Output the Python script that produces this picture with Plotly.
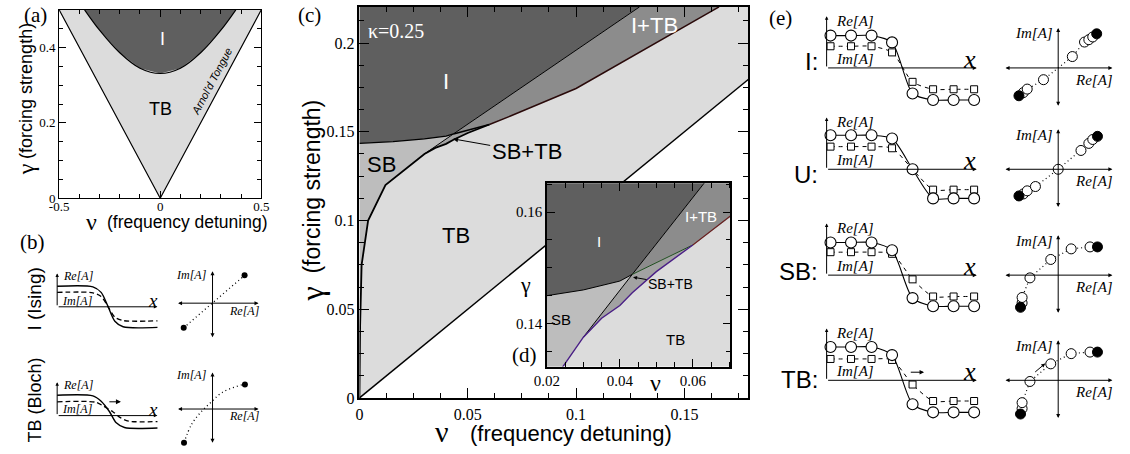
import plotly.graph_objects as go

W, H = 1130, 454
SERIF = "Liberation Serif"
SANS = "Liberation Sans"

# ======================= DATA =======================
# (a) overview of the Arnold tongue
a_tongue_nu = [-0.5, 0.0, 0.5]
a_tongue_gamma = [0.5, 0.0, 0.5]
a_ising_nu = [-0.374, -0.3, -0.2, -0.1, 0.0, 0.1, 0.2, 0.3, 0.374]
a_ising_gamma = [0.5, 0.446, 0.386, 0.345, 0.331, 0.345, 0.386, 0.446, 0.5]
a_top = 0.5

# (c)/(d) phase diagram, kappa = 0.25
c_top = 0.2204
tongue_nu = [0.0, 0.2]
tongue_gamma = [0.0, 0.2]
sbtb_nu = [0.0, 0.0003, 0.001, 0.004, 0.012, 0.0243, 0.030, 0.035, 0.040, 0.0434, 0.050, 0.060]
sbtb_gamma = [0.0, 0.040, 0.075, 0.100, 0.120, 0.1321, 0.1375, 0.1409, 0.1432, 0.1455, 0.1493, 0.1541]
upper_nu = [0.060, 0.070, 0.100, 0.166]
upper_gamma = [0.1541, 0.1590, 0.1744, 0.2204]
ibound_nu = [0.0, 0.0155, 0.030, 0.040, 0.0434]
ibound_gamma = [0.1435, 0.1445, 0.1460, 0.1476, 0.1488]
line_nu = [0.030, 0.0434, 0.1293]
line_gamma = [0.1375, 0.1488, 0.2204]
green_nu = [0.0434, 0.060]
green_gamma = [0.1488, 0.1541]

# (b) schematic profiles
b_I_re_t = [0, 2.6, 3.2, 3.71, 4.2, 4.8, 7.3]
b_I_re = [1.0, 0.97, 0.7, 0.0, -0.7, -0.97, -1.0]
b_I_im_t = [0, 2.6, 3.2, 3.71, 4.2, 4.8, 7.3]
b_I_im = [0.70, 0.68, 0.5, 0.0, -0.5, -0.67, -0.68]
b_TB_re_t = [0, 2.6, 3.2, 3.8, 4.3, 4.9, 7.3]
b_TB_re = [0.99, 0.96, 0.7, 0.2, -0.35, -0.58, -0.6]
b_TB_im_t = [0, 2.8, 3.4, 4.05, 4.6, 5.2, 7.3]
b_TB_im = [0.67, 0.65, 0.45, 0.19, -0.1, -0.27, -0.29]
b_I_ph_re = [-0.89, 0.99]
b_I_ph_im = [-0.76, 0.86]
b_TB_ph_re = [-0.88, -0.65, -0.39, -0.09, 0.31, 0.92, 1.0]
b_TB_ph_im = [-1.04, -0.48, -0.13, 0.17, 0.52, 0.75, 0.76]

# (e) discrete profiles (8 sites) and phase portraits
e_sites = [0, 1, 2, 3, 4, 5, 6, 7]
e_names = ["I:", "U:", "SB:", "TB:"]
e_re = [[1.0, 1.0, 1.0, 0.79, -0.79, -0.99, -0.99, -0.99],
        [1.05, 1.05, 1.05, 0.95, 0.0, -0.9, -0.9, -0.9],
        [1.01, 1.01, 1.01, 0.77, -0.71, -0.96, -0.96, -0.96],
        [1.03, 1.03, 1.03, 0.78, -0.74, -0.99, -0.99, -0.99]]
e_im = [[0.67, 0.67, 0.67, 0.48, -0.43, -0.66, -0.66, -0.66],
        [0.70, 0.70, 0.70, 0.65, 0.0, -0.63, -0.63, -0.63],
        [0.71, 0.71, 0.71, 0.66, -0.13, -0.66, -0.66, -0.66],
        [0.66, 0.66, 0.66, 0.63, -0.13, -0.64, -0.64, -0.64]]
e_ph_re = [[-1.0, -0.89, -0.79, -0.375, 0.36, 0.67, 0.78, 0.88, 0.98],
           [-1.0, -0.89, -0.79, -0.58, 0.0, 0.58, 0.78, 0.88, 1.0],
           [-0.96, -0.92, -0.92, -0.72, -0.19, 0.33, 0.81, 1.0],
           [-0.96, -0.92, -0.92, -0.72, -0.19, 0.33, 0.81, 1.0]]
e_ph_im = [[-0.71, -0.63, -0.54, -0.3, 0.29, 0.66, 0.72, 0.79, 0.87],
           [-0.68, -0.63, -0.55, -0.44, 0.0, 0.48, 0.66, 0.76, 0.84],
           [-0.82, -0.71, -0.57, -0.07, 0.4, 0.67, 0.72, 0.72],
           [-0.86, -0.72, -0.57, -0.03, 0.42, 0.68, 0.72, 0.72]]

C_I = "#5f5f5f"
C_ITB = "#8c8c8c"
C_SB = "#bdbdbd"
C_SBTB = "#a2a2a2"
C_TB = "#dcdcdc"

# ======================= HELPERS =======================
fig = go.Figure()
axes = {}
annotations = []


def ref(i):
    return ("x" if i == 1 else f"x{i}", "y" if i == 1 else f"y{i}")


def set_axes(i, xdom, ydom, xr, yr, xkw=None, ykw=None):
    sfx = "" if i == 1 else str(i)
    xd = dict(domain=xdom, range=xr, anchor="y" + sfx, showgrid=False, zeroline=False, fixedrange=True)
    yd = dict(domain=ydom, range=yr, anchor="x" + sfx, showgrid=False, zeroline=False, fixedrange=True)
    if xkw:
        xd.update(xkw)
    if ykw:
        yd.update(ykw)
    axes["xaxis" + sfx] = xd
    axes["yaxis" + sfx] = yd


def sk_axes(i, ox, oy, sx, sy, pl, pr, pt, pb):
    set_axes(i, [(ox - pl) / W, (ox + pr) / W], [1 - (oy + pb) / H, 1 - (oy - pt) / H],
             [-pl / sx, pr / sx], [-pb / sy, pt / sy], dict(visible=False), dict(visible=False))


def tr(i, x, y, **kw):
    xr, yr = ref(i)
    fig.add_trace(go.Scatter(x=x, y=y, xaxis=xr, yaxis=yr, showlegend=False, hoverinfo="skip", **kw))


def poly(i, x, y, color):
    tr(i, x, y, mode="lines", fill="toself", fillcolor=color, line=dict(width=0, color=color))


def arrow(i, x0, y0, x1, y1, both=False, size=0.8, width=1.0, head=2):
    xr, yr = ref(i)
    annotations.append(dict(x=x1, y=y1, ax=x0, ay=y0, xref=xr, yref=yr, axref=xr, ayref=yr, text="",
                            showarrow=True, arrowhead=head, arrowsize=size, arrowwidth=width,
                            arrowcolor="black", arrowside="end+start" if both else "end",
                            startarrowhead=head, startarrowsize=size))


def label(i, x, y, text, size, family=SERIF, color="black", xanchor="center", angle=0):
    xr, yr = ref(i)
    annotations.append(dict(x=x, y=y, xref=xr, yref=yr, text=text, showarrow=False,
                            font=dict(family=family, size=size, color=color),
                            xanchor=xanchor, yanchor="middle", textangle=angle))


def plabel(px, py, text, size, family=SERIF, xanchor="center", angle=0, color="black"):
    annotations.append(dict(x=px / W, y=1 - py / H, xref="paper", yref="paper", text=text,
                            showarrow=False, font=dict(family=family, size=size, color=color),
                            xanchor=xanchor, yanchor="middle", textangle=angle))


def frame(lw, tl, ml, fs, dtick, minor, tick0=0.0, tickvals=None, ticktext=None, standoff=0):
    d = dict(showline=True, linecolor="black", linewidth=lw, mirror="ticks", ticks="inside",
             ticklen=tl, tickwidth=1.1, tickcolor="black", ticklabelstandoff=standoff,
             tickfont=dict(family=SERIF, size=fs, color="black"),
             minor=dict(ticks="inside", ticklen=ml, tickwidth=1, tickcolor="black", dtick=minor, tick0=tick0))
    if tickvals is not None:
        d.update(tickmode="array", tickvals=tickvals, ticktext=ticktext)
    else:
        d.update(tick0=tick0, dtick=dtick)
    return d


# ======================= (a) =======================
set_axes(1, [47 / W, 253 / W], [1 - 202.3 / H, 1 - 10 / H], [-0.5, 0.5], [0, a_top],
         frame(1.2, 7, 4, 13, 0.5, 0.1, tick0=-0.5, tickvals=[-0.5, 0, 0.5], ticktext=["-0.5", "0", "0.5"],
               standoff=-4),
         frame(1.2, 7, 4, 13, 0.2, 0.05))
poly(1, a_tongue_nu, a_tongue_gamma, C_TB)
poly(1, a_ising_nu + [a_ising_nu[0]], a_ising_gamma + [a_ising_gamma[0]], C_I)
tr(1, a_tongue_nu, a_tongue_gamma, mode="lines", line=dict(color="black", width=1.2))
tr(1, a_ising_nu, a_ising_gamma, mode="lines", line=dict(color="black", width=1.2, shape="spline"))
label(1, 0.01, 0.422, "I", 18, SANS, "white")
label(1, 0.0, 0.237, "TB", 18, SANS)
label(1, 0.257, 0.31, "<i>Arnol'd Tongue</i>", 11, SANS, angle=-62)
plabel(23, 15, "(a)", 21)
plabel(13, 173, "γ", 24, SERIF, angle=-90)
plabel(13, 93, "(forcing strength)", 18, SANS, angle=-90)
plabel(80, 226, "ν", 24, SERIF)
plabel(178, 226, "(frequency detuning)", 17.5, SANS)


# ======================= (c) and (d) =======================
def phase_diagram(i, inset):
    poly(i, [0, 0.2, 0.2, 0], [0, 0.2, 0.3, 0.3], C_TB)
    k = sbtb_nu.index(0.030)
    poly(i, sbtb_nu[:k + 1] + [line_nu[1]] + ibound_nu[::-1],
         sbtb_gamma[:k + 1] + [line_gamma[1]] + ibound_gamma[::-1], C_SB)
    poly(i, sbtb_nu[k:] + green_nu[::-1] + [line_nu[0]],
         sbtb_gamma[k:] + green_gamma[::-1] + [line_gamma[0]], C_SBTB)
    poly(i, green_nu + upper_nu[1:] + line_nu[::-1][:2],
         green_gamma + upper_gamma[1:] + line_gamma[::-1][:2], C_ITB)
    poly(i, ibound_nu + line_nu[1:] + [0.0], ibound_gamma + line_gamma[1:] + [c_top], C_I)
    if inset:
        tr(i, ibound_nu, ibound_gamma, mode="lines", line=dict(color="black", width=1))
        tr(i, line_nu, line_gamma, mode="lines", line=dict(color="black", width=1))
        tr(i, green_nu, green_gamma, mode="lines", line=dict(color="#1f4f1f", width=1))
        tr(i, upper_nu, upper_gamma, mode="lines", line=dict(color="#6a2020", width=1.2))
        tr(i, sbtb_nu, sbtb_gamma, mode="lines", line=dict(color="#4a1f86", width=1.4))
    else:
        tr(i, tongue_nu, tongue_gamma, mode="lines", line=dict(color="black", width=1.5))
        tr(i, ibound_nu, ibound_gamma, mode="lines", line=dict(color="black", width=1.2))
        tr(i, line_nu, line_gamma, mode="lines", line=dict(color="black", width=1))
        tr(i, upper_nu, upper_gamma, mode="lines", line=dict(color="#2a0a0a", width=1.5))
        tr(i, green_nu, green_gamma, mode="lines", line=dict(color="black", width=1.5))
        tr(i, sbtb_nu, sbtb_gamma, mode="lines", line=dict(color="black", width=1.8))


set_axes(2, [353 / W, 749 / W], [1 - 406 / H, 1 - 7 / H], [0, 0.1794], [0, c_top],
         frame(1.5, 10, 5, 16, 0.05, 0.0125, standoff=1), frame(1.5, 10, 5, 16, 0.05, 0.0125))
phase_diagram(2, False)
label(2, 0.0168, 0.2068, "κ=0.25", 20, SERIF, "white")
label(2, 0.0399, 0.1783, "I", 22, SANS, "white")
label(2, 0.1364, 0.2100, "I+TB", 22, SANS, "white")
label(2, 0.0103, 0.1313, "SB", 22, SANS)
label(2, 0.0447, 0.0917, "TB", 22, SANS)
annotations.append(dict(x=0.0432, y=0.1460, ax=0.0772, ay=0.1387, xref="x2", yref="y2", axref="x2",
                        ayref="y2", text="SB+TB", showarrow=True, arrowhead=2, arrowsize=1,
                        arrowwidth=1, arrowcolor="black", font=dict(family=SANS, size=22, color="black")))
plabel(302, 15, "(c)", 21)
plabel(305, 300, "γ", 32, SERIF, angle=-90)
plabel(305, 190, "(forcing strength)", 23, SANS, angle=-90)
plabel(437, 440, "ν", 30, SERIF)
plabel(569, 442, "(frequency detuning)", 22, SANS)

set_axes(3, [544 / W, 731 / W], [1 - 374 / H, 1 - 187 / H], [0.02, 0.0703], [0.1322, 0.1652],
         frame(1.5, 8, 5, 15, 0.02, 0.005), frame(1.5, 8, 5, 15, 0.02, 0.005))
phase_diagram(3, True)
label(3, 0.0342, 0.1547, "I", 15, SANS, "white")
label(3, 0.0622, 0.1592, "I+TB", 15, SANS, "white")
label(3, 0.0239, 0.1406, "SB", 15, SANS)
label(3, 0.0553, 0.1370, "TB", 15, SANS)
annotations.append(dict(x=0.0436, y=0.1483, ax=0.0539, ay=0.1471, xref="x3", yref="y3", axref="x3",
                        ayref="y3", text="SB+TB", showarrow=True, arrowhead=2, arrowsize=0.8,
                        arrowwidth=1, arrowcolor="black", font=dict(family=SANS, size=14, color="black")))
plabel(521, 362, "(d)", 21)
plabel(522, 290, "γ", 22, SERIF)
plabel(655, 391, "ν", 24, SERIF)

# ======================= (b) =======================
plabel(20, 247, "(b)", 21)
plabel(22, 305, "I (Ising)", 19, SANS, angle=-90)
plabel(22, 408, "TB (Bloch)", 18, SANS, angle=-90)


def b_profile(i, oy, re_t, re, im_t, im, arrow_mark=False):
    sk_axes(i, 45, oy, 14, 21, 6, 112, 40, 30)
    arrow(i, 0, 0, 0, 1.62, size=0.7)
    arrow(i, 0, 0, 7.29, 0, size=0.7)
    tr(i, im_t, im, mode="lines", line=dict(color="black", width=1.3, dash="5px,3px", shape="spline", smoothing=0.8),
       cliponaxis=False)
    tr(i, re_t, re, mode="lines", line=dict(color="black", width=1.4, shape="spline", smoothing=0.8),
       cliponaxis=False)
    label(i, 0.29, 1.5, "<i>Re[A]</i>", 12, xanchor="left")
    label(i, 0.21, 0.3, "<i>Im[A]</i>", 12, xanchor="left")
    label(i, 7.0, 0.3, "<i>x</i>", 19)
    if arrow_mark:
        arrow(i, 3.69, 0.67, 4.64, 0.67, size=1.0, width=1.0)


def b_phase(i, oy, re, im, top, bot, dotted_shape):
    sk_axes(i, 203.3, oy, 33, 33, 45, 55, 40, 36.5)
    arrow(i, -1.11, 0, 1.42, 0, both=True, size=0.8)
    arrow(i, 0, -bot, 0, top, both=True, size=0.8)
    tr(i, re, im, mode="lines", line=dict(color="black", width=1.3, dash="1px,3px", shape=dotted_shape),
       cliponaxis=False)
    tr(i, [re[0], re[-1]], [im[0], im[-1]], mode="markers", marker=dict(color="black", size=6),
       cliponaxis=False)


b_profile(4, 313, b_I_re_t, b_I_re, b_I_im_t, b_I_im)
b_phase(5, 309.3, b_I_ph_re, b_I_ph_im, 0.99, 1.1, "linear")
label(5, -0.1, 0.86, "<i>Im[A]</i>", 12, xanchor="right")
label(5, 0.98, -0.23, "<i>Re[A]</i>", 12)
b_profile(6, 424, b_TB_re_t, b_TB_re, b_TB_im_t, b_TB_im, arrow_mark=True)
b_phase(7, 417.3, b_TB_ph_re, b_TB_ph_im, 1.13, 1.09, "spline")
label(7, -0.1, 1.05, "<i>Im[A]</i>", 12, xanchor="right")
label(7, 0.98, -0.21, "<i>Re[A]</i>", 12)

# ======================= (e) =======================
plabel(782, 18, "(e)", 21)
e_base = [69.3, 172.7, 280.7, 388.0]
e_label_y = [63, 178, 277, 387]
for r in range(4):
    ip = 8 + 2 * r
    iq = 9 + 2 * r
    oy = e_base[r]
    plabel(822, e_label_y[r], e_names[r], 24, SANS, xanchor="right")
    # profile
    sk_axes(ip, 833, oy, 20.9, 33, 20, 160, 62, 42)
    arrow(ip, -0.19, 0, -0.19, 1.6, size=0.7)
    arrow(ip, -0.19, 0, 7.13, 0, size=0.8)
    tr(ip, e_sites, e_im[r], mode="lines+markers",
       line=dict(color="black", width=1, dash="4px,4px", shape="spline", smoothing=0.7),
       marker=dict(symbol="square", size=7, color="white", line=dict(color="black", width=1)),
       cliponaxis=False)
    tr(ip, e_sites, e_re[r], mode="lines+markers",
       line=dict(color="black", width=1.1, shape="spline", smoothing=0.7),
       marker=dict(symbol="circle", size=11, color="white", line=dict(color="black", width=1.1)),
       cliponaxis=False)
    label(ip, 0.18, 1.45, "<i>Re[A]</i>", 15, xanchor="left")
    label(ip, 0.18, 0.28, "<i>Im[A]</i>", 15, xanchor="left")
    label(ip, 6.79, 0.27, "<i>x</i>", 26)
    if r == 3:
        arrow(ip, 3.84, 0.25, 4.56, 0.25, size=0.9)
    # phase portrait
    sk_axes(iq, 1065, oy, 40, 40, 60, 62, 46, 46)
    arrow(iq, -1.38, 0, 1.38, 0, both=True, size=0.8)
    arrow(iq, 0, -1.0, 0, 1.02, both=True, size=0.8)
    pr, pi = e_ph_re[r], e_ph_im[r]
    tr(iq, pr, pi, mode="lines", line=dict(color="black", width=1.2, dash="1px,3px"), cliponaxis=False)
    tr(iq, pr[1:-1], pi[1:-1], mode="markers",
       marker=dict(symbol="circle", size=10, color="white", line=dict(color="black", width=1)),
       cliponaxis=False)
    tr(iq, [pr[0], pr[-1]], [pi[0], pi[-1]], mode="markers",
       marker=dict(symbol="circle", size=10, color="black", line=dict(color="black", width=1)),
       cliponaxis=False)
    label(iq, -0.08, 0.88, "<i>Im[A]</i>", 15, xanchor="right")
    label(iq, 0.92, -0.3, "<i>Re[A]</i>", 15)
    if r == 3:
        arrow(iq, -0.625, 0.18, -0.33, 0.43, size=0.8)

fig.update_layout(width=W, height=H, margin=dict(l=0, r=0, t=0, b=0), autosize=False,
                  paper_bgcolor="white", plot_bgcolor="rgba(0,0,0,0)", showlegend=False,
                  annotations=annotations, **axes)
fig.write_html("out.html", config={"displayModeBar": False},
               post_script="document.body.style.margin='0';document.body.style.overflow='hidden';")
